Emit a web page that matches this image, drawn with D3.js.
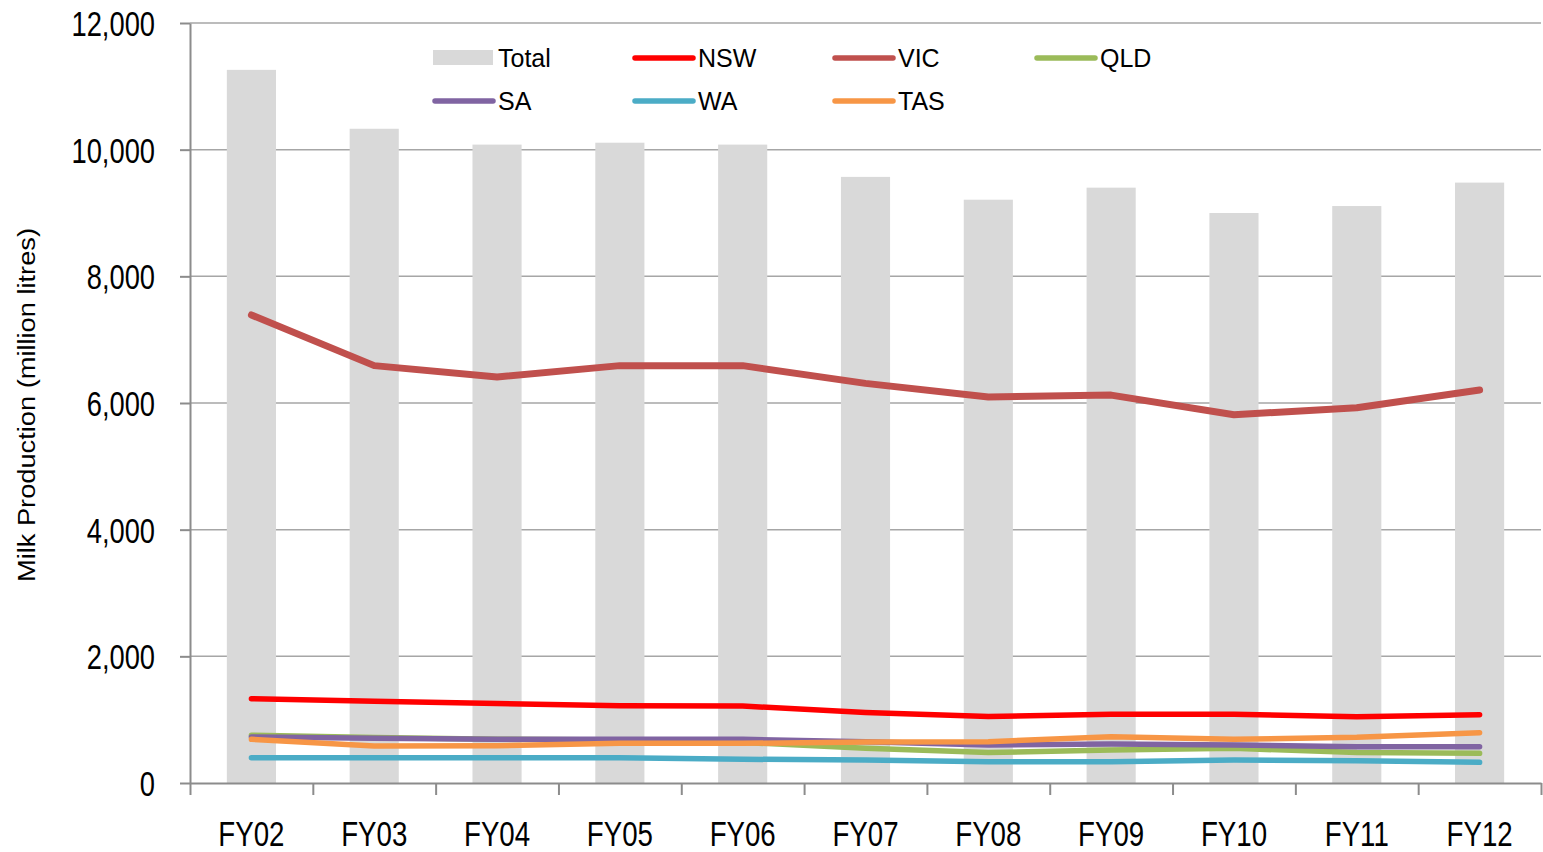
<!DOCTYPE html>
<html>
<head>
<meta charset="utf-8">
<script src="https://cdn.jsdelivr.net/npm/d3@7"></script>
<style>
  html, body { margin: 0; padding: 0; background: #ffffff; }
  svg { display: block; }
  text { font-family: "Liberation Sans", Arial, sans-serif; fill: #000; }
</style>
</head>
<body>
<svg id="chart" width="1543" height="852"></svg>
<script>
const categories = ["FY02","FY03","FY04","FY05","FY06","FY07","FY08","FY09","FY10","FY11","FY12"];
const total = [11260, 10330, 10080, 10110, 10080, 9570, 9210, 9400, 9000, 9110, 9480];
const nsw = [1330, 1290, 1255, 1220, 1215, 1112, 1050, 1085, 1085, 1047, 1079];
const vic = [7390, 6590, 6410, 6590, 6590, 6310, 6095, 6125, 5815, 5925, 6205];
const qld = [755, 720, 690, 680, 640, 550, 480, 520, 547, 480, 468];
const sa  = [728, 705, 690, 690, 690, 650, 600, 616, 600, 574, 574];
const wa  = [400, 400, 400, 400, 375, 363, 337, 337, 363, 353, 326];
const tas = [690, 585, 590, 626, 626, 648, 652, 731, 690, 721, 795];
const yTicks = [0, 2000, 4000, 6000, 8000, 10000, 12000];

const series = [
  { name: "NSW", values: nsw, color: "#ff0000", width: 5.5 },
  { name: "VIC", values: vic, color: "#c0504d", width: 7 },
  { name: "QLD", values: qld, color: "#9bbb59", width: 5.5 },
  { name: "SA",  values: sa,  color: "#8064a2", width: 5.5 },
  { name: "WA",  values: wa,  color: "#4bacc6", width: 5.5 },
  { name: "TAS", values: tas, color: "#f79646", width: 5.5 }
];

const svg = d3.select("#chart");
const L = 190, R = 1541, T = 23, B = 783;

const x = d3.scaleBand().domain(categories).range([L, R]).paddingInner(0.6).paddingOuter(0.3);
const xc = d3.scaleBand().domain(categories).range([L, R]);
const y = d3.scaleLinear().domain([0, 12000]).range([B, T]);

function squeeze(sel, factor) {
  sel.each(function() {
    const w = this.getComputedTextLength();
    this.setAttribute("textLength", (w * factor).toFixed(1));
    this.setAttribute("lengthAdjust", "spacingAndGlyphs");
  });
}

// gridlines
svg.append("g").selectAll("line").data(yTicks.filter(d => d > 0)).join("line")
  .attr("x1", L).attr("x2", R)
  .attr("y1", d => y(d)).attr("y2", d => y(d))
  .attr("stroke", "#a6a6a6").attr("stroke-width", 1.5);

// bars
svg.append("g").selectAll("rect").data(categories).join("rect")
  .attr("x", d => x(d))
  .attr("width", x.bandwidth())
  .attr("y", (d, i) => y(total[i]))
  .attr("height", (d, i) => B - y(total[i]))
  .attr("fill", "#d9d9d9");

// y axis
const yAxis = svg.append("g").attr("transform", `translate(${L},0)`)
  .call(d3.axisLeft(y).tickValues(yTicks).tickSizeInner(10).tickSizeOuter(0)
    .tickPadding(25).tickFormat(d3.format(",")));
yAxis.select(".domain").attr("stroke", "#8c8c8c").attr("stroke-width", 2);
yAxis.selectAll(".tick line").attr("stroke", "#8c8c8c").attr("stroke-width", 2);
yAxis.selectAll(".tick text").attr("font-size", 35).attr("font-family", "Liberation Sans, Arial, sans-serif")
  .attr("dy", "0.36em");
squeeze(yAxis.selectAll(".tick text"), 0.78);

// x axis: boundary ticks
const xb = d3.scaleLinear().domain([0, categories.length]).range([L, R]);
const xAxisB = svg.append("g").attr("transform", `translate(0,${B})`)
  .call(d3.axisBottom(xb).tickValues(d3.range(categories.length + 1)).tickSizeInner(12).tickSizeOuter(0).tickFormat(""));
xAxisB.select(".domain").attr("stroke", "#8c8c8c").attr("stroke-width", 2);
xAxisB.selectAll(".tick line").attr("stroke", "#8c8c8c").attr("stroke-width", 2);

// x axis labels
const xAxisL = svg.append("g").attr("transform", `translate(0,${B})`)
  .call(d3.axisBottom(xc).tickSize(0));
xAxisL.select(".domain").remove();
xAxisL.selectAll(".tick text").attr("font-size", 35).attr("font-family", "Liberation Sans, Arial, sans-serif")
  .attr("dy", null).attr("y", 63);
squeeze(xAxisL.selectAll(".tick text"), 0.79);

// lines
const line = d3.line().x((d, i) => xc(categories[i]) + xc.bandwidth() / 2).y(d => y(d));
svg.append("g").selectAll("path").data(series).join("path")
  .attr("d", d => line(d.values))
  .attr("fill", "none")
  .attr("stroke", d => d.color)
  .attr("stroke-width", d => d.width)
  .attr("stroke-linecap", "round")
  .attr("stroke-linejoin", "round");

// y title
const title = svg.append("text")
  .attr("transform", `translate(35,405) rotate(-90)`)
  .attr("text-anchor", "middle")
  .attr("font-size", 23)
  .text("Milk Production (million litres)");
title.attr("textLength", 354).attr("lengthAdjust", "spacingAndGlyphs");

// legend
const legendItems = [
  { name: "Total", type: "rect", color: "#d9d9d9", x: 433, y: 58 },
  { name: "NSW", type: "line", color: "#ff0000", x: 633, y: 58 },
  { name: "VIC", type: "line", color: "#c0504d", x: 833, y: 58 },
  { name: "QLD", type: "line", color: "#9bbb59", x: 1035, y: 58 },
  { name: "SA",  type: "line", color: "#8064a2", x: 433, y: 101 },
  { name: "WA",  type: "line", color: "#4bacc6", x: 633, y: 101 },
  { name: "TAS", type: "line", color: "#f79646", x: 833, y: 101 }
];
const lg = svg.append("g").selectAll("g").data(legendItems).join("g")
  .attr("transform", d => `translate(${d.x},${d.y})`);
lg.filter(d => d.type === "rect").append("rect")
  .attr("x", 0).attr("y", -8).attr("width", 60).attr("height", 15).attr("fill", d => d.color);
lg.filter(d => d.type === "line").append("line")
  .attr("x1", 2).attr("x2", 60).attr("y1", 0).attr("y2", 0)
  .attr("stroke", d => d.color).attr("stroke-width", 5.5).attr("stroke-linecap", "round");
lg.append("text").attr("x", 65).attr("y", 9).attr("font-size", 25).text(d => d.name);
</script>
</body>
</html>
